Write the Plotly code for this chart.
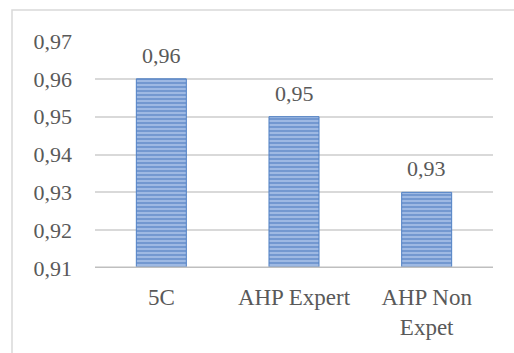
import plotly.graph_objects as go

categories = ["5C", "AHP Expert", "AHP Non<br>Expet"]
values = [0.96, 0.95, 0.93]
value_labels = ["0,96", "0,95", "0,93"]
tick_vals = [0.91, 0.92, 0.93, 0.94, 0.95, 0.96, 0.97]

W, H = 514, 353
L, R, T, B = 95, 21, 41, 85
pw, ph = W - L - R, H - T - B

font_fam = "Liberation Serif"
txt_col = "#595959"
fs = 22

fig = go.Figure()
fig.add_trace(go.Bar(
    x=categories, y=values, width=0.377,
    marker=dict(
        color="#a3bee6",
        line=dict(color="#5080c4", width=1),
        pattern=dict(shape="-", fgcolor="#3e6fb8", bgcolor="#a8c1e8", size=4, solidity=0.6),
    ),
    hoverinfo="skip",
))

for c, v, lab in zip(categories, values, value_labels):
    fig.add_annotation(x=c, y=v, text=lab, showarrow=False, yanchor="bottom",
                       yshift=9, font=dict(family=font_fam, size=fs, color=txt_col))

# outer chart border (top and left visible)
x0 = (12 - L) / pw
x1 = (W + 5 - L) / pw
y0 = (H - B - 10) / ph
y1 = (H - B - (H + 5)) / ph
fig.add_shape(type="rect", xref="paper", yref="paper", x0=x0, x1=x1, y0=y1, y1=y0,
              line=dict(color="#d9d9d9", width=1.5), fillcolor="rgba(0,0,0,0)", layer="below")

fig.update_layout(
    width=W, height=H,
    margin=dict(l=L, r=R, t=T, b=B, pad=0),
    paper_bgcolor="white", plot_bgcolor="white",
    separators=",.",
    showlegend=False,
    font=dict(family=font_fam, size=fs, color=txt_col),
    xaxis=dict(showgrid=False, showline=False, ticks="", ticklabelstandoff=13,
               tickfont=dict(family=font_fam, size=23, color=txt_col)),
    yaxis=dict(range=[0.91, 0.97], tickvals=tick_vals, tickformat=".2f",
               showgrid=True, gridcolor="#d9d9d9", gridwidth=2,
               zeroline=False, showline=False, ticks="", ticklabelstandoff=22,
               tickfont=dict(family=font_fam, size=fs, color=txt_col)),
)
fig.add_shape(type="line", xref="paper", yref="y", x0=0, x1=1, y0=0.91, y1=0.91,
              line=dict(color="#bfbfbf", width=3))

fig.write_html("out.html")
